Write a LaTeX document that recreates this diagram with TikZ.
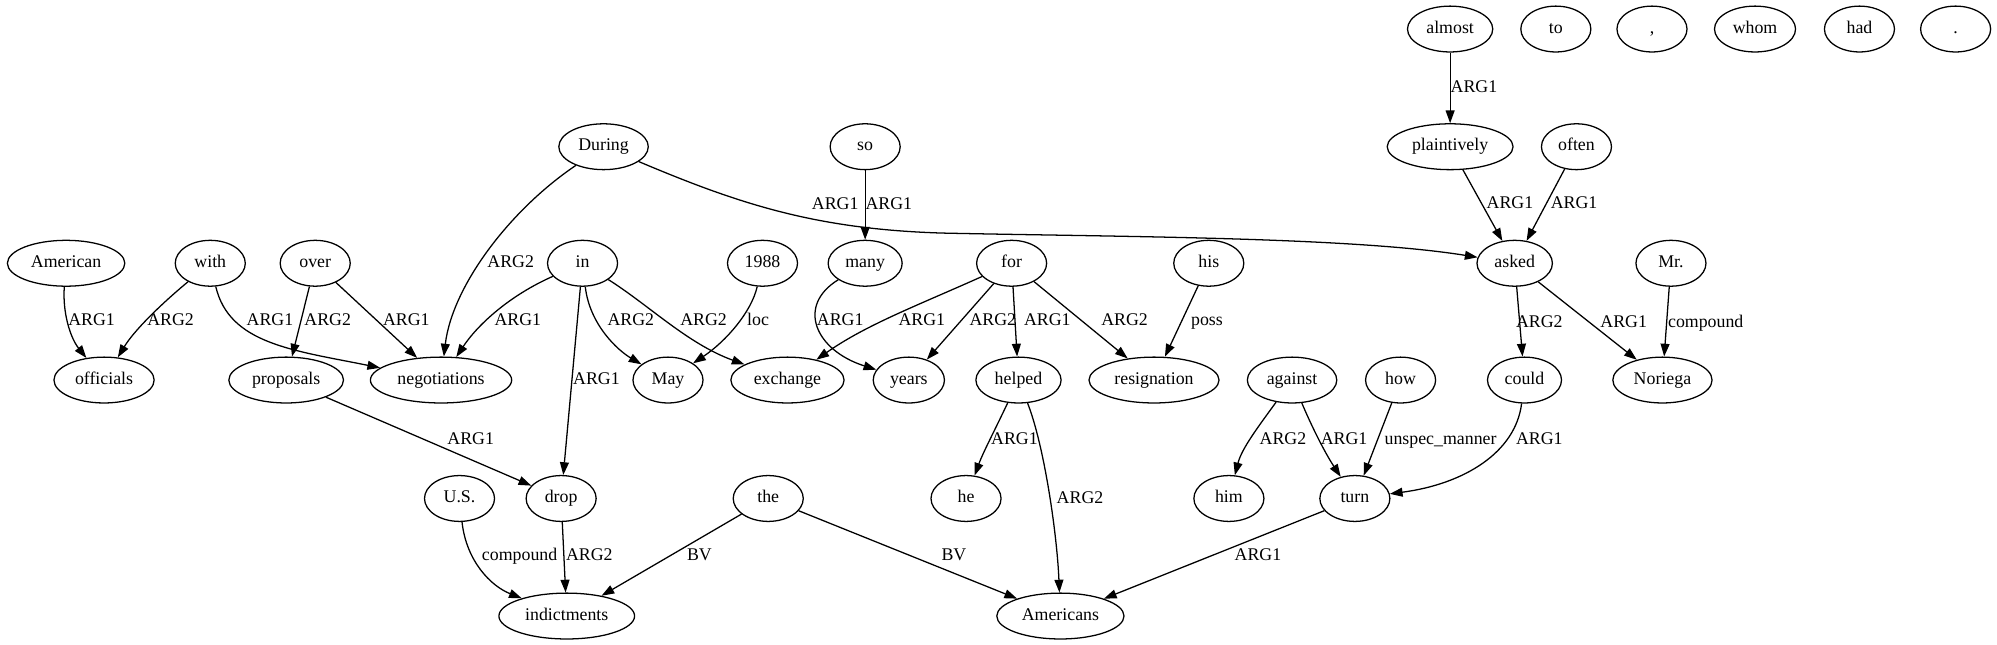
\documentclass[tikz,border=0pt]{standalone}
\usepackage{fontspec}
\setmainfont{Liberation Serif}
\usetikzlibrary{arrows.meta,shapes.geometric}
\begin{document}
\begin{tikzpicture}[x=1pt,y=-1pt,
  nd/.style={draw,ellipse,line width=1pt,minimum width=55pt,minimum height=36pt,inner xsep=5pt,inner ysep=2pt,text height=9.5pt,text depth=3pt,font=\fontsize{14pt}{16pt}\selectfont},
  lab/.style={inner sep=0pt,text height=9.5pt,text depth=3pt,font=\fontsize{14pt}{16pt}\selectfont},
  arr/.style={line width=1pt,-{Triangle[length=10pt,width=7pt]}}]
\useasboundingbox (0,0) rectangle (1568,506.4);
% row 0
\node[nd] (almost) at (1138.6,22.8) {almost};
\node[nd] (to) at (1221.6,22.8) {to};
\node[nd] (comma) at (1297.1,22.8) {,};
\node[nd] (whom) at (1378,22.8) {whom};
\node[nd] (had) at (1460,22.8) {had};
\node[nd] (dot) at (1535.5,22.8) {.};
% row 1
\node[nd] (During) at (473.9,115.2) {During};
\node[nd] (so) at (679.3,115.2) {so};
\node[nd] (plaintively) at (1138.6,115.2) {plaintively};
\node[nd] (often) at (1237.8,115.2) {often};
% row 2
\node[nd] (American) at (51.9,206.7) {American};
\node[nd] (with) at (165.1,206.7) {with};
\node[nd] (over) at (247.5,206.7) {over};
\node[nd] (in) at (457.4,206.7) {in};
\node[nd] (n1988) at (598.7,206.7) {1988};
\node[nd] (many) at (679.3,206.7) {many};
\node[nd] (for) at (794.3,206.7) {for};
\node[nd] (his) at (949.1,206.7) {his};
\node[nd] (asked) at (1189.3,206.7) {asked};
\node[nd] (Mr) at (1312,206.7) {Mr.};
% row 3
\node[nd] (officials) at (81.7,298.4) {officials};
\node[nd] (proposals) at (224.7,298.4) {proposals};
\node[nd] (negotiations) at (346.3,298.4) {negotiations};
\node[nd] (May) at (524.5,298.4) {May};
\node[nd] (exchange) at (618.3,298.4) {exchange};
\node[nd] (years) at (713.6,298.4) {years};
\node[nd] (helped) at (799.7,298.4) {helped};
\node[nd] (resignation) at (906.1,298.4) {resignation};
\node[nd] (against) at (1014.5,298.4) {against};
\node[nd] (how) at (1099.7,298.4) {how};
\node[nd] (could) at (1197,298.4) {could};
\node[nd] (Noriega) at (1305.3,298.4) {Noriega};
% row 4
\node[nd] (US) at (360.8,391.4) {U.S.};
\node[nd] (drop) at (440.6,391.4) {drop};
\node[nd] (the) at (603.2,391.4) {the};
\node[nd] (he) at (758.5,391.4) {he};
\node[nd] (him) at (964.9,391.4) {him};
\node[nd] (turn) at (1063.8,391.4) {turn};
% row 5
\node[nd] (indictments) at (445,483.7) {indictments};
\node[nd] (Americans) at (832.6,483.7) {Americans};

% edges
\draw[arr] (almost) -- (plaintively);
\draw[arr] (plaintively) -- (asked);
\draw[arr] (often) -- (asked);
\draw[arr] (During) .. controls (580,160) and (640,180) .. (740,183) .. controls (880,186) and (1060,186) .. (asked);
\draw[arr] (During) .. controls (400,165) and (355,225) .. (negotiations);
\draw[arr] (American) .. controls (49,245) and (55,265) .. (officials);
\draw[arr] (with) .. controls (125,240) and (105,260) .. (officials);
\draw[arr] (with) .. controls (180,270) and (230,275) .. (negotiations);
\draw[arr] (over) -- (proposals);
\draw[arr] (over) -- (negotiations);
\draw[arr] (in) .. controls (400,232) and (375,255) .. (negotiations);
\draw[arr] (in) .. controls (463,255) and (485,275) .. (May);
\draw[arr] (in) .. controls (510,240) and (540,270) .. (exchange);
\draw[arr] (in) -- (drop);
\draw[arr] (n1988) .. controls (590,245) and (570,268) .. (May);
\draw[arr] (so) -- (many);
\draw[arr] (many) .. controls (625,240) and (640,275) .. (years);
\draw[arr] (for) .. controls (720,240) and (680,255) .. (exchange);
\draw[arr] (for) -- (years);
\draw[arr] (for) -- (helped);
\draw[arr] (for) -- (resignation);
\draw[arr] (his) -- (resignation);
\draw[arr] (asked) -- (could);
\draw[arr] (asked) -- (Noriega);
\draw[arr] (Mr) -- (Noriega);
\draw[arr] (against) .. controls (988,335) and (975,352) .. (him);
\draw[arr] (against) .. controls (1030,335) and (1040,355) .. (turn);
\draw[arr] (how) -- (turn);
\draw[arr] (could) .. controls (1190,355) and (1150,380) .. (turn);
\draw[arr] (turn) -- (Americans);
\draw[arr] (helped) .. controls (820,350) and (830,420) .. (Americans);
\draw[arr] (helped) .. controls (780,340) and (772,355) .. (he);
\draw[arr] (proposals) -- (drop);
\draw[arr] (drop) -- (indictments);
\draw[arr] (US) .. controls (366,440) and (385,460) .. (indictments);
\draw[arr] (the) -- (indictments);
\draw[arr] (the) -- (Americans);

% edge labels
\node[lab] (l1) at (1157.3,69.4) {ARG1};
\node[lab] (l2) at (1185.6,160.2) {ARG1};
\node[lab] (l3) at (1235.9,160.2) {ARG1};
\node[lab] (l4) at (655.8,161) {ARG1};
\node[lab] (l5) at (401,206.7) {ARG2};
\node[lab] (l6) at (71.9,252.6) {ARG1};
\node[lab] (l7) at (133.9,252.6) {ARG2};
\node[lab] (l8) at (212,252.6) {ARG1};
\node[lab] (l9) at (257.3,252.6) {ARG2};
\node[lab] (l10) at (319,252.6) {ARG1};
\node[lab] (l11) at (406.6,252.6) {ARG1};
\node[lab] (l12) at (495.3,252.6) {ARG2};
\node[lab] (l13) at (552.4,252.6) {ARG2};
\node[lab] (l14) at (468.3,298.4) {ARG1};
\node[lab] (l15) at (595.2,252.6) {loc};
\node[lab] (l16) at (697.9,161) {ARG1};
\node[lab] (l17) at (659.7,252.6) {ARG1};
\node[lab] (l18) at (723.8,252.6) {ARG1};
\node[lab] (l19) at (779.5,252.6) {ARG2};
\node[lab] (l20) at (822.3,252.6) {ARG1};
\node[lab] (l21) at (883,252.6) {ARG2};
\node[lab] (l22) at (947.7,252.6) {poss};
\node[lab] (l23) at (1208.6,253.9) {ARG2};
\node[lab] (l24) at (1274.9,253.9) {ARG1};
\node[lab] (l25) at (1339.3,253.9) {compound};
\node[lab] (l26) at (1007.3,345.5) {ARG2};
\node[lab] (l27) at (1055.3,345.5) {ARG1};
\node[lab] (l28) at (1131.1,345.5) {unspec\_manner};
\node[lab] (l29) at (1208.6,345.5) {ARG1};
\node[lab] (l30) at (987.7,437) {ARG1};
\node[lab] (l31) at (848,391.8) {ARG2};
\node[lab] (l32) at (796.5,345.5) {ARG1};
\node[lab] (l33) at (369.6,345.5) {ARG1};
\node[lab] (l34) at (462.7,437) {ARG2};
\node[lab] (l35) at (408,437) {compound};
\node[lab] (l36) at (549.2,437) {BV};
\node[lab] (l37) at (749,437) {BV};
\end{tikzpicture}
\end{document}
